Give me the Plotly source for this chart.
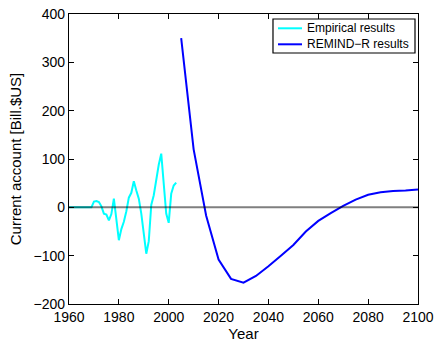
import plotly.graph_objects as go

# Empirical current account, yearly (Bill. $US)
emp_years = list(range(1960, 2004))
emp_values = [0, 0, 0, 0, 0, 0, 0, 0, 0, 0,
              12, 13, 11, 2, -13, -15, -27, -14, 18, -25,
              -68, -45, -30, -8, 20, 30, 54, 35, 18, -13,
              -55, -96, -70, 5, 25, 60, 88, 111, 45, -13,
              -32, 28, 45, 51]

# REMIND-R model projection, 5-year steps (Bill. $US)
remind_years = list(range(2005, 2101, 5))
remind_values = [350, 120, -17, -108, -148, -156, -142, -122, -100, -78,
                 -50, -28, -12, 3, 16, 26, 31, 34, 35, 37]

x_ticks = list(range(1960, 2101, 20))
y_ticks = list(range(-200, 401, 100))

series_names = ["Empirical results", "REMIND\u2212R results"]
series_colors = ["#00FFFF", "#0000FF"]

FONT = "Liberation Sans, Arial, Helvetica, sans-serif"

fig = go.Figure()
fig.add_trace(go.Scatter(x=emp_years, y=emp_values, mode="lines",
                         name=series_names[0],
                         line=dict(color=series_colors[0], width=2)))
fig.add_trace(go.Scatter(x=remind_years, y=remind_values, mode="lines",
                         name=series_names[1],
                         line=dict(color=series_colors[1], width=2)))

# zero reference line across the whole axis
fig.add_shape(type="line", xref="x domain", yref="y", x0=0, x1=1, y0=0, y1=0,
              line=dict(color="rgba(0,0,0,0.5)", width=2), layer="above")

# compact boxed legend in the upper right corner
fig.add_shape(type="rect", xref="x domain", yref="y domain",
              x0=0.5845, x1=0.9914, y0=0.8655, y1=0.9828,
              line=dict(color="black", width=1.2), fillcolor="white", layer="above")
for i, (name, color) in enumerate(zip(series_names, series_colors)):
    yy = 0.9507 - i * 0.0552
    fig.add_shape(type="line", xref="x domain", yref="y domain",
                  x0=0.5989, x1=0.6676, y0=yy, y1=yy,
                  line=dict(color=color, width=2), layer="above")
    fig.add_annotation(xref="x domain", yref="y domain", x=0.6762, y=yy,
                       xanchor="left", yanchor="middle", text=name, showarrow=False,
                       font=dict(family=FONT, size=12, color="black"))

axis_common = dict(showline=True, linecolor="black", linewidth=1.2, mirror="ticks",
                   ticks="inside", ticklen=5, tickcolor="black", showgrid=False,
                   zeroline=False, automargin=False,
                   tickfont=dict(family=FONT, size=14, color="black"))

fig.update_xaxes(range=[1960, 2100], tickvals=x_ticks,
                 title=dict(text="Year", font=dict(family=FONT, size=15, color="black"),
                            standoff=0),
                 **axis_common)
fig.update_yaxes(range=[-200, 400], tickvals=y_ticks,
                 title=dict(text="Current account [Bill.$US]",
                            font=dict(family=FONT, size=15, color="black"), standoff=8),
                 **axis_common)

fig.update_layout(
    width=439, height=344,
    margin=dict(l=69, r=21, t=14, b=40, autoexpand=False),
    plot_bgcolor="white", paper_bgcolor="white",
    font=dict(family=FONT, color="black"),
    showlegend=False,
)

fig.write_html("out.html")
